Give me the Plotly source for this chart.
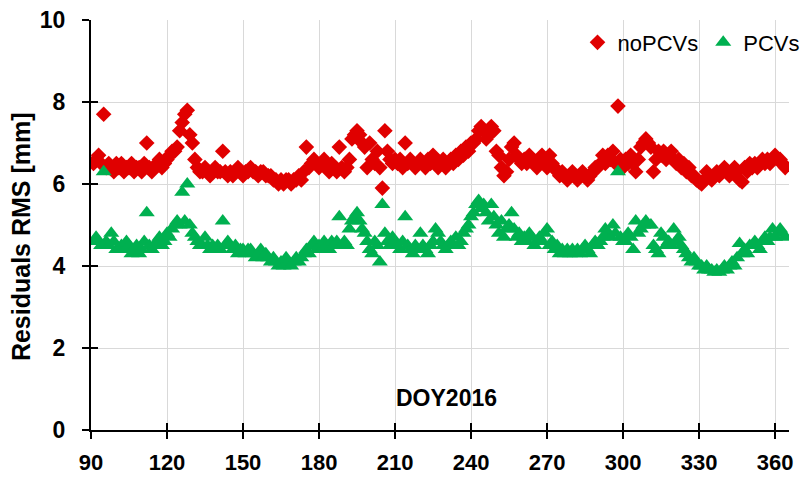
import plotly.graph_objects as go

# Day of year 2016
doy = list(range(91, 365))

# Residuals RMS [mm] without phase centre variations
no_pcvs = [
    6.5, 6.6, 6.7, 6.5, 7.7, 6.4, 6.5, 6.4, 6.3, 6.5,
    6.4, 6.5, 6.3, 6.4, 6.4, 6.5, 6.3, 6.4, 6.4, 6.3,
    6.5, 7.0, 6.4, 6.3, 6.4, 6.5, 6.6, 6.4, 6.5, 6.6,
    6.7, 6.8, 6.8, 6.9, 7.3, 7.5, 7.7, 7.8, 7.2, 7.0,
    6.6, 6.4, 6.3, 6.3, 6.4, 6.3, 6.2, 6.3, 6.4, 6.3,
    6.3, 6.8, 6.3, 6.2, 6.3, 6.2, 6.3, 6.4, 6.3, 6.2,
    6.3, 6.3, 6.4, 6.3, 6.3, 6.2, 6.3, 6.3, 6.2, 6.2,
    6.2, 6.1, 6.1, 6.0, 6.1, 6.0, 6.1, 6.1, 6.0, 6.1,
    6.1, 6.2, 6.1, 6.3, 6.9, 6.4, 6.5, 6.6, 6.5, 6.4,
    6.5, 6.6, 6.4, 6.3, 6.5, 6.4, 6.3, 6.9, 6.4, 6.3,
    6.4, 6.6, 7.1, 7.2, 7.3, 7.2, 7.0, 6.9, 6.4, 7.0,
    6.6, 6.5, 6.8, 6.4, 5.9, 7.3, 6.8, 6.6, 6.5, 6.6,
    6.5, 6.6, 6.4, 7.0, 6.5, 6.6, 6.5, 6.4, 6.5, 6.6,
    6.5, 6.4, 6.6, 6.5, 6.7, 6.5, 6.4, 6.5, 6.6, 6.4,
    6.5, 6.6, 6.5, 6.7, 6.6, 6.8, 6.7, 6.9, 6.8, 7.0,
    7.0, 7.1, 7.3, 7.4, 7.3, 7.1, 7.2, 7.4, 7.3, 6.8,
    6.7, 6.4, 6.2, 6.3, 6.6, 6.9, 7.0, 6.7, 6.6, 6.5,
    6.6, 6.5, 6.7, 6.6, 6.5, 6.4, 6.6, 6.7, 6.5, 6.4,
    6.7, 6.5, 6.4, 6.3, 6.2, 6.3, 6.2, 6.1, 6.2, 6.3,
    6.2, 6.1, 6.2, 6.3, 6.2, 6.1, 6.2, 6.3, 6.4, 6.4,
    6.5, 6.7, 6.5, 6.7, 6.6, 6.8, 6.5, 7.9, 6.6, 6.4,
    6.6, 6.5, 6.7, 6.5, 6.3, 6.6, 6.9, 7.0, 7.1, 7.0,
    6.9, 6.3, 6.6, 6.8, 6.7, 6.8, 6.6, 6.7, 6.8, 6.6,
    6.5, 6.6, 6.4, 6.5, 6.3, 6.4, 6.2, 6.2, 6.1, 6.05,
    6.0, 6.1, 6.3, 6.2, 6.1, 6.2, 6.3, 6.2, 6.3, 6.4,
    6.3, 6.2, 6.3, 6.4, 6.3, 6.1, 6.05, 6.4, 6.3, 6.5,
    6.4, 6.5, 6.4, 6.5, 6.6, 6.5, 6.6, 6.5, 6.6, 6.7,
    6.6, 6.6, 6.5, 6.4,
]

# Residuals RMS [mm] with phase centre variations applied
pcvs = [
    4.6, 4.7, 4.6, 4.5, 6.3, 4.6, 4.5, 4.8, 4.6, 4.4,
    4.4, 4.5, 4.4, 4.6, 4.5, 4.3, 4.4, 4.5, 4.3, 4.4,
    4.6, 5.3, 4.5, 4.4, 4.5, 4.6, 4.7, 4.5, 4.6, 4.8,
    4.7, 4.9, 5.0, 5.1, 5.0, 5.8, 5.1, 6.0, 5.0, 4.8,
    4.7, 4.6, 4.5, 4.5, 4.7, 4.5, 4.4, 4.5, 4.4, 4.5,
    4.4, 5.1, 4.5, 4.6, 4.5, 4.4, 4.5, 4.3, 4.4, 4.4,
    4.3, 4.4, 4.4, 4.3, 4.2, 4.3, 4.4, 4.2, 4.3, 4.2,
    4.1, 4.2, 4.1, 4.0, 4.1, 4.0, 4.2, 4.1, 4.0, 4.1,
    4.2, 4.1, 4.2, 4.3, 4.4, 4.3, 4.5, 4.6, 4.4, 4.5,
    4.4, 4.6, 4.5, 4.4, 4.6, 4.5, 4.6, 5.2, 4.5, 4.6,
    4.5, 4.9, 5.1, 5.2, 5.3, 5.1, 4.9, 4.8, 4.6, 4.4,
    4.3, 4.6, 4.5, 4.1, 5.5, 4.8, 4.6, 4.5, 4.7, 4.6,
    4.5, 4.4, 4.6, 5.2, 4.5, 4.4, 4.3, 4.5, 4.4, 4.8,
    4.5, 4.4, 4.3, 4.5, 4.6, 4.9, 4.8, 4.6, 4.5, 4.4,
    4.5, 4.6, 4.5, 4.7, 4.5, 4.6, 4.8, 4.9, 5.0, 5.2,
    5.3, 5.5, 5.6, 5.4, 5.5, 5.3, 5.1, 5.5, 5.2, 5.0,
    4.8, 5.1, 4.7, 4.9, 5.0, 5.3, 4.9, 4.7, 4.8, 4.6,
    4.7, 4.6, 4.8, 4.7, 4.5, 4.6, 4.7, 4.6, 4.8, 4.9,
    4.5, 4.6, 4.4, 4.5, 4.3, 4.4, 4.3, 4.4, 4.3, 4.4,
    4.3, 4.4, 4.3, 4.4, 4.5, 4.4, 4.3, 4.5, 4.6, 4.5,
    4.6, 4.7, 4.9, 4.8, 4.7, 5.0, 4.8, 6.3, 4.7, 4.6,
    4.6, 4.8, 4.7, 4.4, 5.1, 4.8, 4.9, 5.0, 5.1, 5.0,
    5.0, 4.5, 4.4, 4.3, 4.8, 4.7, 4.5, 4.6, 4.5, 4.9,
    4.6, 4.7, 4.5, 4.4, 4.3, 4.2, 4.1, 4.2, 4.1, 4.0,
    4.0, 3.9, 4.0, 3.9, 3.9, 3.85, 3.9, 3.85, 3.9, 4.0,
    3.9, 4.0, 4.1, 4.0, 4.2, 4.55, 4.3, 4.4, 4.3, 4.5,
    4.5, 4.6, 4.5, 4.4, 4.6, 4.7, 4.6, 4.7, 4.9, 4.7,
    4.8, 4.9, 4.8, 4.7,
]

x_ticks = [90, 120, 150, 180, 210, 240, 270, 300, 330, 360]
y_ticks = [0, 2, 4, 6, 8, 10]

RED = "#E00000"
GREEN = "#00B050"
FONT = "Liberation Sans, Arial, sans-serif"

x_range = [90, 365.5]
y_range = [0, 10]

fig = go.Figure()
fig.add_trace(go.Scatter(
    x=doy, y=no_pcvs, mode="markers", name="noPCVs",
    marker=dict(symbol="diamond", size=12, color=RED, line=dict(width=0)),
))
fig.add_trace(go.Scatter(
    x=doy, y=pcvs, mode="markers", name="PCVs",
    marker=dict(symbol="triangle-up", size=14, color=GREEN, line=dict(width=0)),
))
# transparent point on the overlay axes so their inward tick marks are drawn
fig.add_trace(go.Scatter(
    x=[x_range[0]], y=[y_range[0]], xaxis="x2", yaxis="y2", mode="markers",
    marker=dict(size=1, opacity=0), showlegend=False, hoverinfo="skip",
))

fig.update_layout(
    width=804, height=477,
    margin=dict(l=91, r=15, t=20, b=47, autoexpand=False),
    paper_bgcolor="white", plot_bgcolor="white",
    font=dict(family=FONT, color="black"),
    showlegend=True,
    legend=dict(
        orientation="h", x=0.697, xanchor="left", y=0.945, yanchor="middle",
        font=dict(size=22, family=FONT, color="black"),
        bgcolor="rgba(0,0,0,0)", itemwidth=30, tracegroupgap=0,
    ),
    xaxis=dict(
        range=x_range, tickmode="array", tickvals=x_ticks, automargin=False,
        showgrid=True, gridcolor="#D9D9D9", gridwidth=1,
        showline=True, linecolor="black", linewidth=2,
        ticks="outside", ticklen=7, tickwidth=2, tickcolor="black",
        tickfont=dict(size=22, family=FONT, weight="bold"),
        ticklabelstandoff=5, zeroline=False,
    ),
    yaxis=dict(
        range=y_range, tickmode="array", tickvals=y_ticks, automargin=False,
        showgrid=True, gridcolor="#D9D9D9", gridwidth=1,
        showline=True, linecolor="black", linewidth=2,
        ticks="outside", ticklen=7, tickwidth=2, tickcolor="black",
        tickfont=dict(size=23, family=FONT, weight="bold"),
        ticklabelstandoff=12, zeroline=False,
    ),
    xaxis2=dict(
        range=x_range, overlaying="x", anchor="y2", side="bottom",
        tickmode="array", tickvals=x_ticks, showticklabels=False,
        showgrid=False, zeroline=False, showline=False, automargin=False,
        ticks="inside", ticklen=7, tickwidth=2, tickcolor="black",
    ),
    yaxis2=dict(
        range=y_range, overlaying="y", anchor="x2", side="left",
        tickmode="array", tickvals=y_ticks, showticklabels=False,
        showgrid=False, zeroline=False, showline=False, automargin=False,
        ticks="inside", ticklen=7, tickwidth=2, tickcolor="black",
    ),
    annotations=[
        dict(
            text="<b>Residuals RMS [mm]</b>", xref="paper", yref="paper",
            x=-0.1, y=0.471, xanchor="center", yanchor="middle", textangle=-90,
            showarrow=False, font=dict(size=25, family=FONT, color="black"),
        ),
        dict(
            text="<b>DOY2016</b>", xref="paper", yref="paper",
            x=0.509, y=0.078, xanchor="center", yanchor="middle",
            showarrow=False, font=dict(size=23, family=FONT, color="black"),
        ),
    ],
)

fig.write_html("out.html")
